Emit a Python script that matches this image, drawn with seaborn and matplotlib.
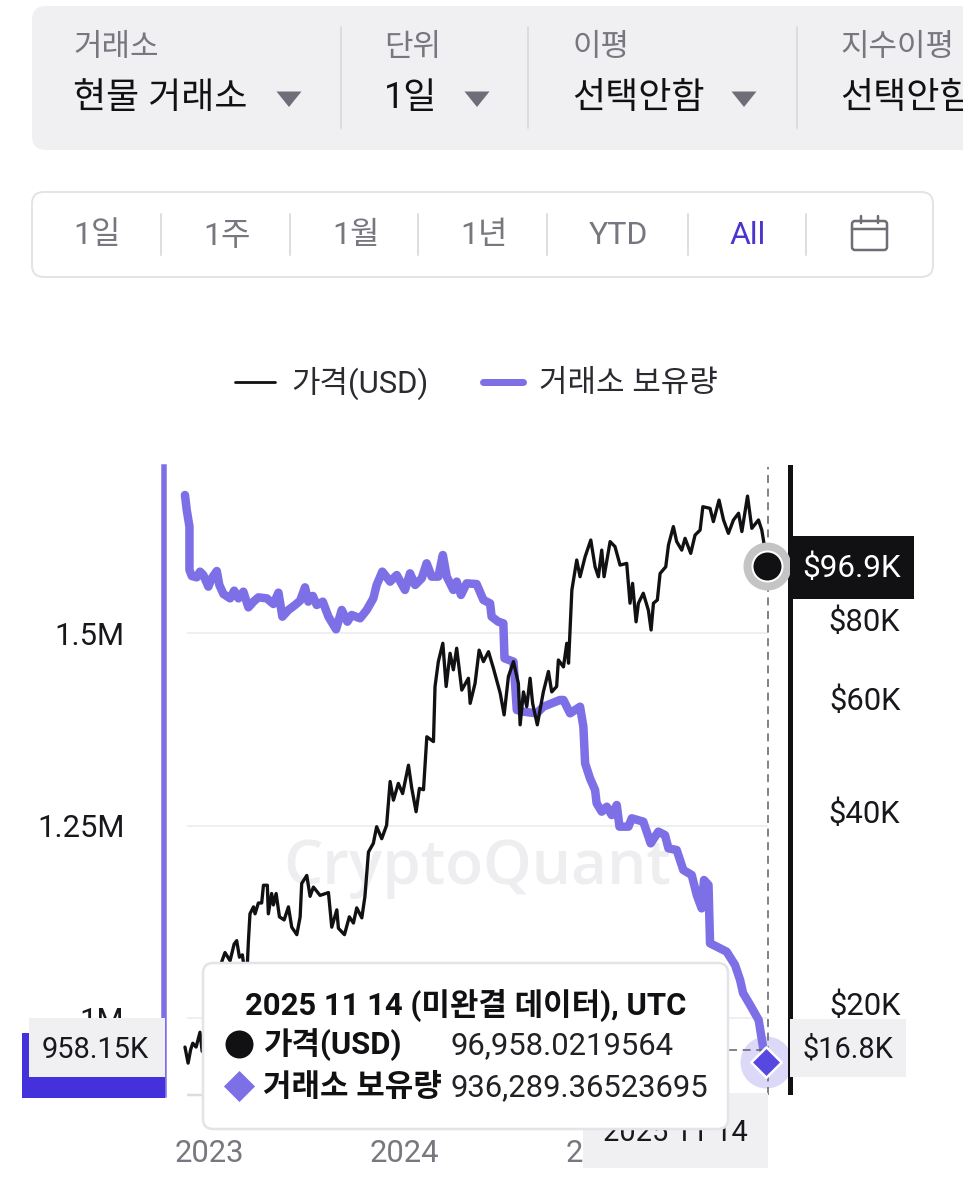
import matplotlib
matplotlib.use("Agg")
import matplotlib.pyplot as plt
import numpy as np
import pandas as pd
import seaborn as sns
from matplotlib.patches import FancyBboxPatch, Rectangle, Polygon
from matplotlib.ticker import NullFormatter, NullLocator

# ---------- data ----------
holdings_year = [2022.874,2022.883,2022.897,2022.897,2022.909,2022.934,2022.951,2022.968,2022.994,2023.011,2023.037,2023.050,2023.071,2023.105,2023.126,2023.148,2023.173,2023.199,2023.225,2023.250,2023.293,2023.327,2023.353,2023.373,2023.404,2023.438,2023.464,2023.489,2023.506,2023.529,2023.549,2023.580,2023.609,2023.648,2023.677,2023.706,2023.728,2023.771,2023.805,2023.839,2023.856,2023.885,2023.925,2023.959,2024.001,2024.027,2024.053,2024.087,2024.112,2024.138,2024.172,2024.195,2024.215,2024.249,2024.266,2024.288,2024.317,2024.368,2024.403,2024.437,2024.445,2024.479,2024.505,2024.511,2024.557,2024.565,2024.574,2024.608,2024.676,2024.710,2024.795,2024.813,2024.847,2024.898,2024.915,2024.924,2024.949,2024.975,2024.983,2025.009,2025.035,2025.060,2025.086,2025.100,2025.146,2025.163,2025.222,2025.260,2025.299,2025.333,2025.351,2025.393,2025.427,2025.470,2025.496,2025.521,2025.533,2025.556,2025.564,2025.615,2025.649,2025.692,2025.718,2025.733,2025.769,2025.813,2025.838,2025.852]
holdings_k = [1679.2,1659.8,1638.1,1581.8,1574.0,1572.3,1579.7,1575.3,1560.2,1571.0,1580.5,1562.4,1550.7,1545.0,1555.0,1545.0,1553.7,1533.3,1540.7,1546.3,1545.0,1537.7,1552.4,1521.2,1529.9,1536.4,1542.0,1559.3,1540.7,1548.1,1536.4,1540.7,1521.2,1504.8,1529.9,1514.7,1523.4,1519.1,1529.9,1545.0,1562.4,1579.7,1566.7,1575.3,1555.9,1577.5,1562.4,1571.0,1590.5,1573.2,1573.2,1601.3,1573.2,1555.9,1566.7,1549.4,1564.5,1563.6,1542.9,1538.5,1521.2,1514.7,1512.6,1467.1,1462.8,1434.6,1400.0,1397.8,1395.7,1404.3,1413.0,1413.0,1395.7,1404.3,1378.4,1330.7,1311.2,1296.1,1278.8,1268.0,1274.4,1263.6,1276.6,1248.5,1248.5,1259.3,1255.0,1226.8,1242.0,1237.6,1220.3,1218.2,1192.2,1185.7,1159.7,1142.4,1179.2,1172.7,1097.0,1090.5,1086.1,1068.8,1049.3,1032.5,1017.0,997.4,958.4,943.0]

price_year = [2022.874,2022.890,2022.903,2022.914,2022.931,2022.951,2022.962,2022.982,2023.023,2023.044,2023.062,2023.079,2023.105,2023.126,2023.139,2023.153,2023.168,2023.173,2023.182,2023.194,2023.199,2023.207,2023.225,2023.233,2023.250,2023.267,2023.276,2023.296,2023.301,2023.318,2023.327,2023.341,2023.358,2023.382,2023.404,2023.421,2023.447,2023.464,2023.472,2023.498,2023.515,2023.532,2023.566,2023.609,2023.626,2023.652,2023.660,2023.691,2023.716,2023.737,2023.754,2023.780,2023.796,2023.814,2023.839,2023.856,2023.882,2023.907,2023.925,2023.942,2023.967,2023.989,2024.019,2024.036,2024.058,2024.075,2024.096,2024.113,2024.147,2024.155,2024.172,2024.195,2024.212,2024.232,2024.249,2024.266,2024.292,2024.326,2024.335,2024.360,2024.381,2024.403,2024.429,2024.454,2024.489,2024.509,2024.531,2024.557,2024.582,2024.591,2024.608,2024.625,2024.642,2024.655,2024.679,2024.710,2024.736,2024.753,2024.778,2024.787,2024.813,2024.830,2024.839,2024.856,2024.881,2024.898,2024.924,2024.953,2024.975,2024.992,2025.009,2025.021,2025.052,2025.077,2025.103,2025.137,2025.154,2025.167,2025.185,2025.197,2025.222,2025.248,2025.262,2025.274,2025.294,2025.308,2025.337,2025.351,2025.376,2025.393,2025.419,2025.436,2025.465,2025.487,2025.513,2025.527,2025.564,2025.581,2025.610,2025.633,2025.658,2025.684,2025.710,2025.727,2025.756,2025.778,2025.812,2025.829,2025.846,2025.856]
price_k = [17.06,16.1,16.9,17.3,17.06,18.0,16.8,17.2,20.2,22.1,23.2,24.0,23.3,24.75,25.05,23.6,23.8,23.2,22.0,23.2,25.0,27.6,28.3,27.6,28.7,28.7,30.6,30.6,27.6,29.7,28.5,29.7,27.3,27.0,28.3,26.3,25.6,27.3,30.8,31.7,29.4,30.4,29.5,29.8,26.3,28.0,26.2,25.6,27.3,26.7,28.2,27.2,29.4,34.5,35.6,37.8,36.2,38.0,44.5,41.6,44.2,42.6,47.2,43.4,39.9,43.4,43.2,52.3,51.4,62.7,68.6,73.3,62.7,70.7,66.6,72.0,61.9,64.6,59.0,63.4,71.5,68.6,71.1,67.0,61.2,56.6,65.0,68.6,63.4,54.6,61.5,58.3,64.6,59.0,54.6,61.5,66.2,61.5,62.7,69.0,67.3,73.3,68.2,88.8,99.0,93.2,100.2,106.4,96.6,93.2,102.6,93.2,105.8,103.9,97.2,97.8,84.7,91.0,79.2,84.7,87.8,82.6,76.9,84.7,85.7,94.3,96.6,104.5,111.7,105.8,102.6,107.05,101.4,108.3,110.3,120.0,119.3,113.7,122.9,114.4,109.0,114.4,117.2,109.7,124.7,111.0,114.4,110.3,102.6,96.958]

x_ticks = [2023, 2024, 2025]
left_ticks = [1000, 1250, 1500]
left_labels = ["1M", "1.25M", "1.5M"]
right_ticks = [20, 40, 60, 80]
right_labels = ["$20K", "$40K", "$60K", "$80K"]
series_names = ["가격(USD)", "거래소 보유량"]
range_tabs = ["1일", "1주", "1월", "1년", "YTD", "All"]
crosshair_year = 2025.859
crosshair_k = 958.15

PURPLE = "#7d70e6"
INDIGO = "#4431dc"
GRAY_BG = "#f0f0f3"
GRAY_TX = "#77777f"
DARK = "#18181c"

sns.set_theme(style="white")
FONTS = ["Roboto", "Noto Sans CJK KR", "DejaVu Sans"]
plt.rcParams["font.family"] = FONTS

W, H = 963, 1200
def pt(px):
    return px * 0.72

fig = plt.figure(figsize=(W / 100, H / 100), dpi=100, facecolor="white")
L, R, T, B = 163.5, 789.5, 467, 1095
ax = fig.add_axes([L / W, 1 - B / H, (R - L) / W, (B - T) / H])
ax.set_facecolor("none")
ax.set_xlim(2022.764, 2025.971)
ax.set_ylim(900, 1715.6)

hold_df = pd.DataFrame({"year": holdings_year, "holdings": holdings_k})
price_df = pd.DataFrame({"year": price_year, "price": price_k})

# watermark
ax.text(477 / W, 1 - 868 / H, "CryptoQuant", transform=fig.transFigure, ha="center", va="center",
        fontsize=pt(62), color="#eeeef1", family="Open Sans", weight="semibold", zorder=0)

# grid
ax.hlines(left_ticks, 2022.885, crosshair_year, color="#efeff2", lw=pt(2), zorder=1)
ax.hlines([900], 2022.885, crosshair_year, color="#dcdce0", lw=pt(2.5), zorder=1, clip_on=False)

sns.lineplot(data=hold_df, x="year", y="holdings", ax=ax, color=PURPLE, lw=pt(8.5), sort=False,
             estimator=None, errorbar=None, solid_capstyle="round", solid_joinstyle="round",
             zorder=2.5, legend=False)
ax.scatter([holdings_year[-1]], [holdings_k[-1]], s=1400, color="#dcd8f8", lw=0, zorder=2, clip_on=False)
ax.axvline(crosshair_year, color="#66666c", lw=pt(1.6), dashes=(5, 3.5), zorder=3)
ax.hlines([crosshair_k], 2025.66, crosshair_year, color="#66666c", lw=pt(1.6),
          linestyles=[(0, (5, 3.5))], zorder=3)
ax.scatter([holdings_year[-1]], [holdings_k[-1]], marker="D", s=240, color="#5648e0",
           edgecolor="white", lw=pt(2.5), zorder=4, clip_on=False)

ax.set_xlabel("")
ax.set_ylabel("")
ax.set_xticks(x_ticks)
ax.set_xticklabels([str(v) for v in x_ticks], fontsize=pt(31), color=GRAY_TX)
ax.set_yticks(left_ticks)
ax.set_yticklabels(left_labels, fontsize=pt(31), color=DARK)
ax.tick_params(axis="x", length=0, pad=pt(44))
ax.tick_params(axis="y", length=0, pad=pt(39))
for s in ["top", "right", "bottom"]:
    ax.spines[s].set_visible(False)
ax.spines["left"].set_color(PURPLE)
ax.spines["left"].set_linewidth(pt(5.5))

# price axis
tw = ax.twinx()
tw.set_facecolor("none")
tw.set_yscale("log")
tw.set_ylim(14.35, 138.5)
sns.lineplot(data=price_df, x="year", y="price", ax=tw, color="#111114", lw=pt(3.3), sort=False,
             estimator=None, errorbar=None, zorder=2, legend=False)
tw.scatter([price_year[-1]], [price_k[-1]], s=1194, color="#c4c4c4", lw=0, zorder=4, clip_on=False)
tw.scatter([price_year[-1]], [price_k[-1]], s=467, color="#111114", edgecolor="white", lw=pt(2), zorder=5)
tw.set_ylabel("")
tw.yaxis.set_minor_locator(NullLocator())
tw.yaxis.set_minor_formatter(NullFormatter())
tw.set_yticks(right_ticks)
tw.set_yticklabels(right_labels, fontsize=pt(31), color=DARK, ha="right")
tw.tick_params(axis="y", which="both", length=0, pad=pt(111))
for s in ["top", "left", "bottom"]:
    tw.spines[s].set_visible(False)
tw.spines["right"].set_color("#111114")
tw.spines["right"].set_linewidth(pt(5))
tw.spines["right"].set_bounds(14.5, 138.5)

# legend
handles = [plt.Line2D([], [], color="#111114", lw=pt(2.8)),
           plt.Line2D([], [], color=PURPLE, lw=pt(7), solid_capstyle="round")]
fig.legend(handles, series_names, loc="center", bbox_to_anchor=(476.5 / W, 1 - 383 / H), ncol=2,
           frameon=False, fontsize=pt(31), labelcolor="#2a2a30", handlelength=1.29,
           handletextpad=0.52, columnspacing=1.74)

# ---------- interface around the chart, in pixel units ----------
ov = fig.add_axes([0, 0, 1, 1], zorder=10)
ov.set_xlim(0, W)
ov.set_ylim(H, 0)
ov.axis("off")
ov.patch.set_visible(False)

def rbox(x0, y0, x1, y1, r=12, fc="white", ec="none", lw=0, z=1):
    ov.add_patch(FancyBboxPatch((x0 + r, y0 + r), x1 - x0 - 2 * r, y1 - y0 - 2 * r,
                                boxstyle=f"round,pad={r},rounding_size={r}", fc=fc, ec=ec,
                                lw=pt(lw), zorder=z, clip_on=False))

def txt(x, y, s, px=29, color=DARK, ha="left", weight="normal", z=6, clip=False):
    return ov.text(x, y, s, fontsize=pt(px), color=color, ha=ha, va="center", weight=weight,
                   zorder=z, clip_on=clip)

def tri(cx, cy, c="#6e6e78"):
    ov.add_patch(Polygon([(cx - 12.5, cy - 7.5), (cx + 12.5, cy - 7.5), (cx, cy + 8)], fc=c, ec="none", zorder=3))

# selector panel
rbox(32, 6, 1000, 150, r=14, fc=GRAY_BG)
for x in [341, 528, 797]:
    ov.plot([x, x], [27, 128], color="#dcdce0", lw=pt(2), zorder=2)
for x, top, val in [(73, "거래소", "현물 거래소"), (384, "단위", "1일"), (572, "이평", "선택안함"), (840, "지수이평", "선택안함")]:
    txt(x, 47.5, top, px=31, color=GRAY_TX)
    txt(x, 98, val, px=36, color="#111114")
for cx in [289, 477, 744]:
    tri(cx, 99)

# range panel
rbox(32, 192, 933, 277, r=12, fc="white", ec="#e3e3e8", lw=2)
for x in [161, 290, 418, 547, 688, 806]:
    ov.plot([x, x], [214, 255], color="#dedee2", lw=pt(2), zorder=2)
for x, s in zip([97, 227, 356, 484, 618, 748], range_tabs):
    txt(x, 236, s, px=32, color="#4a35d0" if s == "All" else GRAY_TX, ha="center")
# calendar icon
rbox(852, 221, 887, 250, r=3, fc="white", ec="#6e6e78", lw=2.5, z=2)
ov.plot([852, 887], [229, 229], color="#6e6e78", lw=pt(2.5), zorder=3)
for x in [861, 878]:
    ov.plot([x, x], [216, 223], color="#6e6e78", lw=pt(2.5), zorder=3)

# value flags
ov.add_patch(Rectangle((22, 1033), 143, 65, fc=INDIGO, ec="none", zorder=2))
ov.add_patch(Rectangle((29, 1018), 136, 59, fc=GRAY_BG, ec="none", zorder=3))
txt(95, 1050, "958.15K", px=29, ha="center")
ov.add_patch(Rectangle((790, 1019), 116, 58, fc=GRAY_BG, ec="none", zorder=3))
txt(848, 1050, "$16.8K", px=29, ha="center")
ov.add_patch(Rectangle((790, 536), 124, 63, fc="#111114", ec="none", zorder=3))
txt(852, 568, "$96.9K", px=31.5, color="white", ha="center")
ov.add_patch(Rectangle((583, 1093), 185, 75, fc=GRAY_BG, ec="none", zorder=3))
txt(675, 1133, "2025 11 14", px=29, ha="center", z=4)

# tooltip
rbox(203, 963, 728, 1129, r=10, fc="white", ec="#e3e3e8", lw=2.5, z=5)
txt(466, 1005, "2025 11 14 (미완결 데이터), UTC", px=31, color="#111114", ha="center", weight="bold")
ov.scatter([239], [1044], s=(pt(28)) ** 2, color="#111114", lw=0, zorder=6)
txt(263, 1045, series_names[0], px=31, color="#111114", weight="bold")
txt(450, 1046, "96,958.0219564", px=31, color="#222226")
ov.scatter([239], [1086], marker="D", s=(pt(22)) ** 2, color=PURPLE, lw=0, zorder=6)
txt(263, 1087, series_names[1], px=31, color="#111114", weight="bold")
txt(450, 1088, "936,289.36523695", px=31, color="#222226")

fig.savefig("out.png", dpi=100, facecolor="white")
